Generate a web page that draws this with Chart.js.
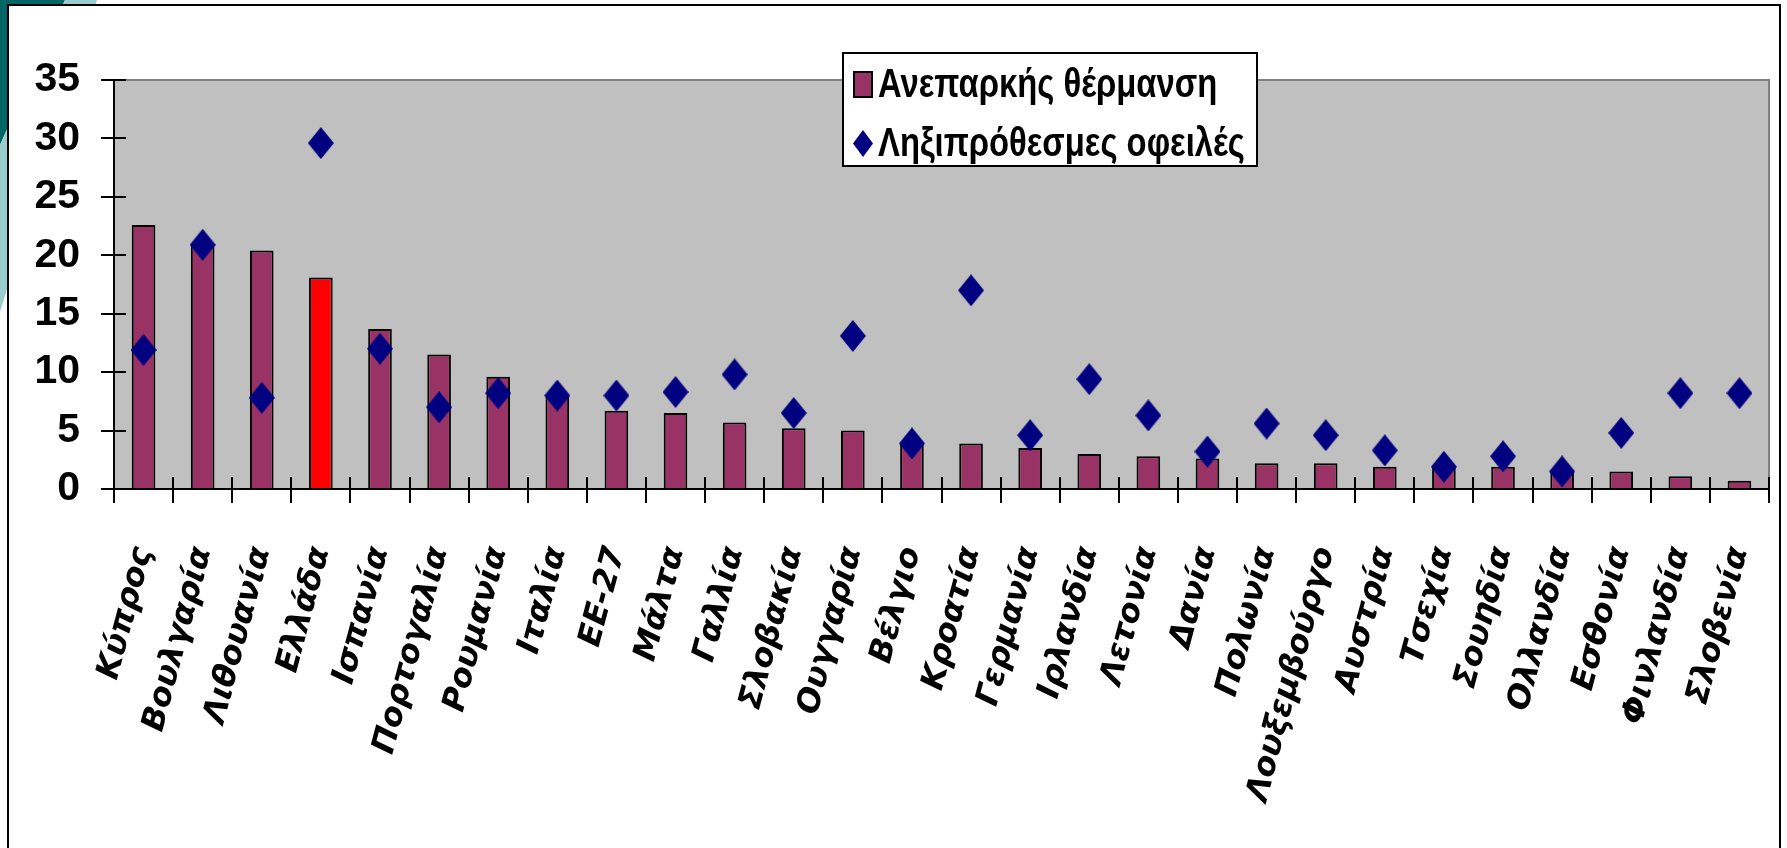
<!DOCTYPE html>
<html>
<head>
<meta charset="utf-8">
<script src="https://cdn.jsdelivr.net/npm/chart.js@4.4.1/dist/chart.umd.min.js"></script>
<style>
  html, body { margin: 0; padding: 0; background: #ffffff; width: 1787px; height: 848px; overflow: hidden; }
  #decoDark { position: absolute; left: 0; top: 0; width: 120px; height: 340px; background: #006666;
              clip-path: polygon(0 0, 65px 0, 0 145px); }
  #decoLight { position: absolute; left: 0; top: 0; width: 120px; height: 340px; background: #99cccc;
              clip-path: polygon(65px 0, 97px 0, 0 312px, 0 145px); }
  #frame { position: absolute; left: 7px; top: 4px; width: 1774px; height: 1000px; box-sizing: border-box;
           border: 2px solid #000; background: #ffffff; }
  #wrap { position: absolute; left: 0; top: 0; width: 1787px; height: 848px; }
</style>
</head>
<body>
<div id="decoDark"></div>
<div id="decoLight"></div>
<div id="frame"></div>
<div id="wrap"><canvas id="c" width="1787" height="848"></canvas></div>
<script>
// ---- data ----
const categories = ['Κύπρος','Βουλγαρία','Λιθουανία','Ελλάδα','Ισπανία','Πορτογαλία','Ρουμανία','Ιταλία','ΕΕ-27','Μάλτα','Γαλλία','Σλοβακία','Ουγγαρία','Βέλγιο','Κροατία','Γερμανία','Ιρλανδία','Λετονία','Δανία','Πολωνία','Λουξεμβούργο','Αυστρία','Τσεχία','Σουηδία','Ολλανδία','Εσθονία','Φινλανδία','Σλοβενία'];
const inadequateHeating = [22.6, 20.9, 20.4, 18.1, 13.7, 11.5, 9.6, 7.9, 6.7, 6.5, 5.7, 5.2, 5.0, 4.0, 3.9, 3.5, 3.0, 2.8, 2.6, 2.2, 2.2, 1.9, 1.8, 1.9, 1.6, 1.5, 1.1, 0.7];
const arrears = [11.9, 20.9, 7.8, 29.6, 12.0, 7.0, 8.2, 8.0, 8.0, 8.3, 9.8, 6.5, 13.1, 3.9, 17.0, 4.6, 9.4, 6.3, 3.2, 5.6, 4.6, 3.3, 1.9, 2.8, 1.5, 4.8, 8.2, 8.2];
const seriesLabels = ['Ανεπαρκής θέρμανση', 'Ληξιπρόθεσμες οφειλές'];
const highlightCategory = 'Ελλάδα';
const yTicks = [0, 5, 10, 15, 20, 25, 30, 35];

// ---- styles ----
const BAR_COLOR = '#993366';
const HIGHLIGHT_COLOR = '#ff0000';
const DIAMOND_COLOR = '#000080';

function makeDiamond(w, h) {
  const cv = document.createElement('canvas');
  cv.width = w; cv.height = h;
  const g = cv.getContext('2d');
  g.fillStyle = DIAMOND_COLOR;
  g.beginPath();
  g.moveTo(w / 2, 0); g.lineTo(w, h / 2); g.lineTo(w / 2, h); g.lineTo(0, h / 2);
  g.closePath(); g.fill();
  return cv;
}
const diamond = makeDiamond(26, 32);

const plotDeco = {
  id: 'plotDeco',
  beforeDraw(chart) {
    const { ctx, chartArea: a } = chart;
    ctx.save();
    ctx.fillStyle = '#c0c0c0';
    ctx.fillRect(a.left, a.top, a.right - a.left, a.bottom - a.top);
    ctx.strokeStyle = '#808080';
    ctx.lineWidth = 2;
    ctx.beginPath();
    ctx.moveTo(a.left, a.top); ctx.lineTo(a.right, a.top); ctx.lineTo(a.right, a.bottom);
    ctx.stroke();
    ctx.restore();
  },
  afterDraw(chart) {
    const { ctx, chartArea: a } = chart;
    const xs = chart.scales.x, ys = chart.scales.y;
    ctx.save();
    ctx.strokeStyle = '#000';
    ctx.lineWidth = 2;
    ctx.beginPath();
    // inner halves of the crossing tick marks
    ys.ticks.forEach((t, i) => {
      const y = Math.round(ys.getPixelForTick(i));
      ctx.moveTo(a.left, y); ctx.lineTo(a.left + 12, y);
    });
    const n = categories.length;
    for (let i = 0; i <= n; i++) {
      const x = Math.round(xs.left + (xs.right - xs.left) * i / n);
      ctx.moveTo(x, a.bottom); ctx.lineTo(x, a.bottom - 12);
    }
    ctx.stroke();

    // legend
    const L = { x: 843, y: 53, w: 414, h: 113 };
    ctx.fillStyle = '#fff';
    ctx.fillRect(L.x, L.y, L.w, L.h);
    ctx.lineWidth = 2;
    ctx.strokeStyle = '#000';
    ctx.strokeRect(L.x, L.y, L.w, L.h);
    // marker 1
    ctx.fillStyle = BAR_COLOR;
    ctx.fillRect(854, 72, 18, 25);
    ctx.strokeRect(854, 72, 18, 25);
    // marker 2
    ctx.drawImage(makeDiamond(20, 27), 853, 130);
    ctx.fillStyle = '#000';
    ctx.textBaseline = 'alphabetic';
    ctx.textAlign = 'left';
    ctx.font = 'bold 40px "Liberation Sans", Arial, sans-serif';
    const sx = 0.82;
    ctx.save(); ctx.translate(878, 97); ctx.scale(sx, 1); ctx.fillText(seriesLabels[0], 0, 0); ctx.restore();
    ctx.save(); ctx.translate(878, 156); ctx.scale(sx, 1); ctx.fillText(seriesLabels[1], 0, 0); ctx.restore();
    ctx.restore();
  }
};

new Chart(document.getElementById('c'), {
  data: {
    labels: categories,
    datasets: [
      {
        type: 'line',
        label: seriesLabels[1],
        data: arrears,
        showLine: false,
        pointStyle: diamond,
        pointRadius: 13,
        pointHoverRadius: 13,
        order: 0
      },
      {
        type: 'bar',
        label: seriesLabels[0],
        data: inadequateHeating,
        backgroundColor: categories.map(c => c === highlightCategory ? HIGHLIGHT_COLOR : BAR_COLOR),
        borderColor: '#000',
        borderWidth: 2,
        borderSkipped: 'bottom',
        categoryPercentage: 1,
        barPercentage: 0.4,
        order: 1
      }
    ]
  },
  options: {
    responsive: false,
    animation: false,
    events: [],
    layout: { padding: { left: 0, top: 80, right: 18, bottom: 0 } },
    plugins: { legend: { display: false }, tooltip: { enabled: false }, title: { display: false } },
    scales: {
      x: {
        type: 'category',
        offset: true,
        afterFit(s) { s.height = 359; s.paddingLeft = 0; s.paddingRight = 0; },
        grid: { offset: true, drawOnChartArea: false, drawTicks: true, tickLength: 14, color: '#000', lineWidth: 2 },
        border: { display: true, color: '#000', width: 2 },
        ticks: {
          autoSkip: false, minRotation: 75, maxRotation: 75, padding: 40, color: '#000',
          font: { family: '"DejaVu Sans", Verdana, sans-serif', size: 32, weight: 'bold', style: 'oblique' }
        }
      },
      y: {
        min: 0, max: 35,
        afterFit(s) { s.width = 114; s.paddingTop = 0; s.paddingBottom = 0; },
        afterBuildTicks(s) { s.ticks = yTicks.map(v => ({ value: v })); },
        grid: { drawOnChartArea: false, drawTicks: true, tickLength: 13, color: '#000', lineWidth: 2 },
        border: { display: true, color: '#000', width: 2 },
        ticks: {
          padding: 21, color: '#000',
          font: { family: '"Liberation Sans", Arial, sans-serif', size: 41, weight: 'bold' }
        }
      }
    }
  },
  plugins: [plotDeco]
});
</script>
</body>
</html>
